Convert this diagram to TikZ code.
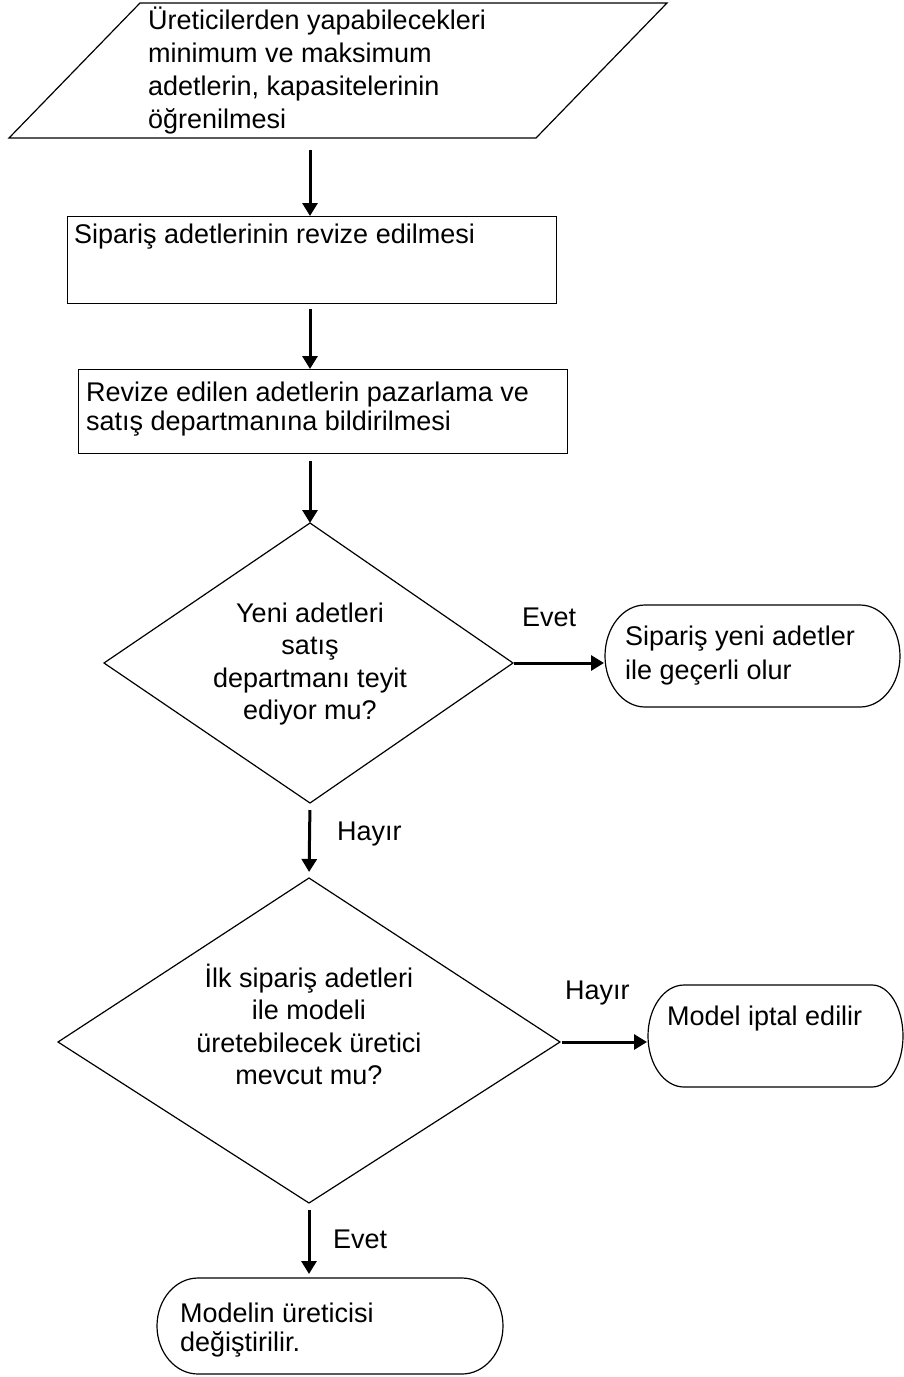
\documentclass[tikz,border=0pt]{standalone}
\usepackage{fontspec}
\setmainfont{Liberation Sans}
\usetikzlibrary{arrows.meta}
\newcommand\toprl{\rule{0pt}{26pt}}
\begin{document}
\begin{tikzpicture}[x=1pt,y=-1pt,
  shp/.style={draw, line width=1.2pt, line join=miter},
  arr/.style={line width=3pt, -{Triangle[width=15pt,length=13pt]}},
  txt/.style={inner sep=0pt, font=\fontsize{27}{33}\selectfont, align=left, anchor=north west},
  ctxt/.style={inner sep=0pt, font=\fontsize{27}{32.5}\selectfont, align=center, anchor=north},
  lbl/.style={inner sep=0pt, font=\fontsize{27}{33}\selectfont, anchor=base west}]
\useasboundingbox (0,0) rectangle (904,1377);

% input parallelogram
\draw[shp] (140,3) -- (667,3) -- (536,138) -- (9,138) -- cycle;
\coordinate (parb) at (310,138);
\node[txt] (part) at (148,3) {\toprl Üreticilerden yapabilecekleri\\minimum ve maksimum\\adetlerin, kapasitelerinin\\öğrenilmesi};

% process box 2
\node[shp, inner sep=0pt, minimum width=489pt, minimum height=87pt, anchor=north west] (b2) at (67,216) {};
\node[txt] (b2t) at (74,217) {\toprl Sipariş adetlerinin revize edilmesi};

% process box 3
\node[shp, inner sep=0pt, minimum width=489pt, minimum height=84pt, anchor=north west] (b3) at (78,369) {};
\node[txt, font=\fontsize{27}{29}\selectfont] (b3t) at (86,375) {\toprl Revize edilen adetlerin pazarlama ve\\satış departmanına bildirilmesi};

% decision 1
\coordinate (d1t) at (310,523);
\coordinate (d1l) at (104,663);
\coordinate (d1r) at (513,663);
\coordinate (d1b) at (310,803);
\draw[shp] (d1t) -- (d1r) -- (d1b) -- (d1l) -- cycle;
\node[ctxt] (d1x) at (310,596) {\toprl Yeni adetleri\\satış\\departmanı teyit\\ediyor mu?};

% terminator 1
\coordinate (t1w) at (605,663);
\draw[shp] (645,605) -- (860,605) arc[start angle=90,end angle=-90,x radius=40pt,y radius=51pt]
  -- (645,707) arc[start angle=270,end angle=90,x radius=40pt,y radius=51pt] -- cycle;
\node[txt, font=\fontsize{27}{34}\selectfont] (t1x) at (625,619) {\toprl Sipariş yeni adetler\\ile geçerli olur};

% decision 2
\coordinate (d2t) at (309,878);
\coordinate (d2l) at (58,1042);
\coordinate (d2r) at (560,1042);
\coordinate (d2b) at (309,1203);
\draw[shp] (d2t) -- (d2r) -- (d2b) -- (d2l) -- cycle;
\node[ctxt] (d2x) at (309,961) {\toprl İlk sipariş adetleri\\ile modeli\\üretebilecek üretici\\mevcut mu?};

% terminator 2
\coordinate (t2w) at (648,1042);
\draw[shp] (684,985) -- (872,985) arc[start angle=90,end angle=-90,x radius=31pt,y radius=51pt]
  -- (684,1087) arc[start angle=270,end angle=90,x radius=36pt,y radius=51pt] -- cycle;
\node[txt] (t2x) at (667,999) {\toprl Model iptal edilir};

% terminator 3
\coordinate (t3n) at (309,1278);
\draw[shp] (198,1278) -- (462,1278) arc[start angle=90,end angle=-90,x radius=41pt,y radius=48pt]
  -- (198,1374) arc[start angle=270,end angle=90,x radius=41pt,y radius=48pt] -- cycle;
\node[txt, font=\fontsize{27}{29}\selectfont] (t3x) at (180,1296) {\toprl Modelin üreticisi\\değiştirilir.};

% connectors
\draw[arr, shorten <=12pt] (parb) -- (parb |- b2.north);
\draw[arr, shorten <=5pt] (parb |- b2.south) -- (parb |- b3.north);
\draw[arr, shorten <=7pt] (parb |- b3.south) -- (d1t);
\draw[arr, shorten <=1pt, shorten >=1pt] (d1r) -- (t1w);
\draw[arr, shorten <=7pt, shorten >=6pt] (d1b) -- (d2t);
\draw[arr, shorten <=2pt, shorten >=1pt] (d2r) -- (t2w);
\draw[arr, shorten <=7pt, shorten >=4pt] (d2b) -- (t3n);

% labels
\node[lbl] (levet1) at (522,626) {Evet};
\node[lbl] (lhay1) at (337,840) {Hayır};
\node[lbl] (lhay2) at (565,999) {Hayır};
\node[lbl] (levet2) at (333,1248) {Evet};
\end{tikzpicture}
\end{document}
